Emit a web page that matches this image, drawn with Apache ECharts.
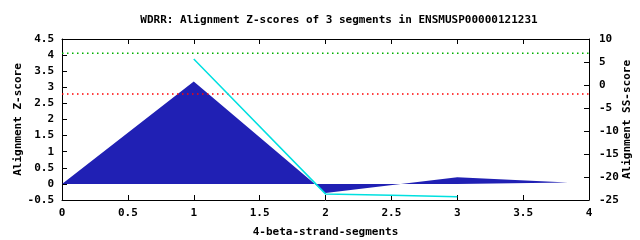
<!DOCTYPE html>
<html><head><meta charset="utf-8">
<script src="https://cdn.jsdelivr.net/npm/echarts@6/dist/echarts.min.js"></script>
<style>html,body{margin:0;padding:0;background:#fff}#c{width:640px;height:240px}</style>
</head><body><div id="c"></div>
<script>
const xTicks = [0, 0.5, 1, 1.5, 2, 2.5, 3, 3.5, 4];
const zX = [0, 1, 2, 3, 3.84];
const zScores = [0, 3.18, -0.28, 0.21, 0.04];
const ssX = [1, 2, 2.5, 3];
const ssScores = [3.88, -0.31, -0.35, -0.4];
const greenLevel = 4.06;
const redLevel = 2.79;

const FONT = 'DejaVu Sans Mono';
const chart = echarts.init(document.getElementById('c'), null, {renderer: 'canvas'});
const axisTxt = {fontFamily: FONT, fontSize: 11, fontWeight: 'bold', color: '#000'};
chart.setOption({
  animation: false,
  title: {
    text: 'WDRR: Alignment Z-scores of 3 segments in ENSMUSP00000121231',
    left: 334, top: 10, textAlign: 'center',
    textStyle: Object.assign({}, axisTxt)
  },
  grid: {left: 62, right: 51, top: 39, bottom: 40, containLabel: false, outerBoundsMode: 'none'},
  xAxis: [{
    type: 'value', min: 0, max: 4, interval: 0.5,
    name: '4-beta-strand-segments', nameLocation: 'middle', nameGap: 27, nameMoveOverlap: false,
    nameTextStyle: axisTxt,
    axisLine: {onZero: false, lineStyle: {color: '#000', width: 1}},
    axisTick: {inside: true, length: 5, lineStyle: {color: '#000'}},
    axisLabel: Object.assign({margin: 8, formatter: v => String(v)}, axisTxt),
    splitLine: {show: false}
  }, {
    type: 'value', min: 0, max: 4, interval: 0.5, position: 'top',
    axisLine: {onZero: false, lineStyle: {color: '#000', width: 1}},
    axisTick: {inside: true, length: 5, lineStyle: {color: '#000'}},
    axisLabel: {show: false}, splitLine: {show: false}
  }],
  yAxis: [{
    type: 'value', min: -0.5, max: 4.5, interval: 0.5,
    name: 'Alignment Z-score', nameLocation: 'middle', nameGap: 38, nameRotate: 90, nameMoveOverlap: false,
    nameTextStyle: axisTxt,
    axisLine: {show: true, onZero: false, lineStyle: {color: '#000', width: 1}},
    axisTick: {show: true, inside: true, length: 5, lineStyle: {color: '#000'}},
    axisLabel: Object.assign({margin: 8}, axisTxt),
    splitLine: {show: false}
  }, {
    type: 'value', min: -25, max: 10, interval: 5, position: 'right',
    name: 'Alignment SS-score', nameLocation: 'middle', nameGap: 33, nameRotate: 90, nameMoveOverlap: false,
    nameTextStyle: axisTxt,
    axisLine: {show: true, onZero: false, lineStyle: {color: '#000', width: 1}},
    axisTick: {show: true, inside: true, length: 5, lineStyle: {color: '#000'}},
    axisLabel: Object.assign({margin: 10}, axisTxt),
    splitLine: {show: false}
  }],
  series: [{
    type: 'line', xAxisIndex: 0, yAxisIndex: 0,
    data: zX.map((x, i) => [x, zScores[i]]),
    symbol: 'none', lineStyle: {width: 0, color: '#2020b4'},
    areaStyle: {color: '#2020b4', opacity: 1, origin: 0}, z: 2
  }, {
    type: 'line', xAxisIndex: 0, yAxisIndex: 0,
    data: [[0, greenLevel], [4, greenLevel]],
    symbol: 'none', lineStyle: {width: 1.5, color: '#00b000', type: [1.5, 3.5]}, z: 3
  }, {
    type: 'line', xAxisIndex: 0, yAxisIndex: 0,
    data: [[0, redLevel], [4, redLevel]],
    symbol: 'none', lineStyle: {width: 1.5, color: '#ff0000', type: [1.5, 3.5]}, z: 3
  }, {
    type: 'line', xAxisIndex: 0, yAxisIndex: 0,
    data: ssX.map((x, i) => [x, ssScores[i]]),
    symbol: 'none', lineStyle: {width: 1.5, color: '#00e0e0'}, z: 4
  }]
});
</script></body></html>
